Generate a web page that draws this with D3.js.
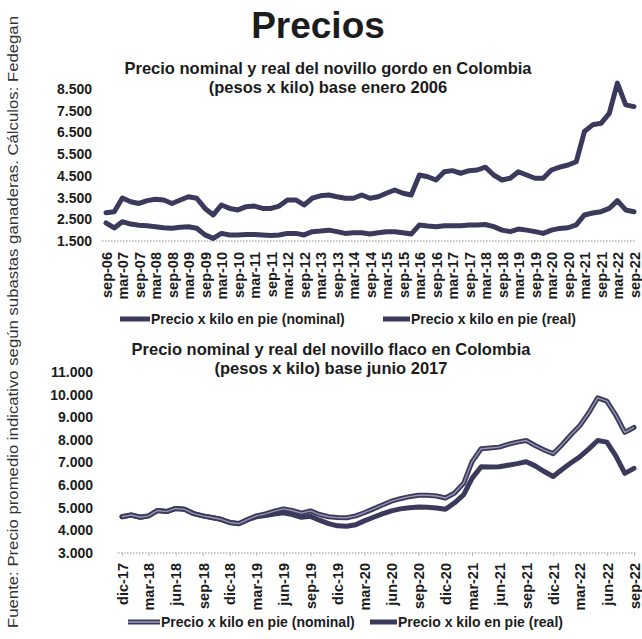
<!DOCTYPE html>
<html>
<head>
<meta charset="utf-8">
<script src="https://cdn.jsdelivr.net/npm/d3@7/dist/d3.min.js"></script>
<style>
  body { margin: 0; background: #fff; }
  svg { display: block; }
  text { font-family: 'Liberation Sans', Arial, sans-serif; fill: #1c1c1c; }
</style>
</head>
<body>
<svg id="chart" width="642" height="639"></svg>
<script>
/* ---- Data: novillo gordo, trimestral sep-06 .. sep-22 ---- */
const gordoNominal = [
  2800, 2850,
  3480, 3310, 3230, 3360,
  3420, 3390, 3230, 3390,
  3540, 3470, 3000, 2700,
  3160, 3000, 2930, 3080,
  3110, 3000, 3000, 3110,
  3390, 3390, 3160, 3470,
  3580, 3620, 3540, 3470,
  3470, 3620, 3470, 3540,
  3700, 3850, 3700, 3620,
  4540, 4460, 4310, 4690,
  4740, 4620, 4740, 4770,
  4900, 4540, 4310, 4390,
  4690, 4540, 4390, 4390,
  4770, 4900, 5000, 5150,
  6540, 6850, 6920, 7380,
  8770, 7770, 7690
];
const gordoReal = [
  2330, 2100,
  2390, 2280, 2230, 2200,
  2160, 2110, 2090, 2130,
  2160, 2090, 1780, 1620,
  1850, 1780, 1780, 1800,
  1800, 1780, 1750, 1780,
  1850, 1850, 1780, 1930,
  1960, 2000, 1930, 1850,
  1880, 1880, 1820, 1880,
  1930, 1930, 1880, 1820,
  2240, 2190, 2160, 2200,
  2200, 2200, 2240, 2240,
  2260, 2160, 2000, 1930,
  2050, 2000, 1930, 1850,
  2000, 2080, 2110, 2240,
  2700, 2790, 2850, 3000,
  3360, 2930, 2850
];
const gordoTicksY = [1500, 2500, 3500, 4500, 5500, 6500, 7500, 8500];

/* ---- Data: novillo flaco, mensual dic-17 .. sep-22 ---- */
const flacoNominal = [
  4600,
  4680, 4580, 4640, 4880, 4830, 4970, 4930, 4740, 4640, 4570, 4490, 4350,
  4300, 4490, 4640, 4730, 4850, 4950, 4880, 4760, 4860, 4700, 4600, 4565,
  4560, 4640, 4780, 4950, 5120, 5290, 5400, 5490, 5550, 5550, 5520, 5430,
  5650, 6090, 7030, 7610, 7640, 7680, 7800, 7900, 7970, 7750, 7550, 7390,
  7800, 8250, 8620, 9200, 9860, 9710, 9100, 8330, 8550
];
const flacoReal = [
  4600,
  4680, 4580, 4640, 4880, 4830, 4970, 4930, 4740, 4640, 4570, 4490, 4350,
  4290, 4470, 4600, 4660, 4720, 4780, 4700, 4580, 4620, 4450, 4300, 4200,
  4180, 4250, 4420, 4580, 4730, 4860, 4950, 5000, 5030, 5020, 4990, 4930,
  5220, 5580, 6300, 6810, 6800, 6810, 6880, 6950, 7030, 6850, 6600, 6380,
  6700, 7000, 7250, 7600, 7970, 7900, 7300, 6520, 6740
];
const flacoTicksY = [3000, 4000, 5000, 6000, 7000, 8000, 9000, 10000, 11000];

const MESES = ['ene', 'feb', 'mar', 'abr', 'may', 'jun', 'jul', 'ago', 'sep', 'oct', 'nov', 'dic'];
const LINE_DARK = '#3b3a5c';

const gordoDates = d3.timeMonth.range(new Date(2006, 8, 1), new Date(2022, 9, 1), 3);
const flacoDates = d3.timeMonth.range(new Date(2017, 11, 1), new Date(2022, 9, 1));
const gordoTicksX = d3.timeMonth.range(new Date(2006, 8, 1), new Date(2022, 9, 1), 6);
const flacoTicksX = d3.timeMonth.range(new Date(2017, 11, 1), new Date(2022, 9, 1), 3);

const fmtMes = d => MESES[d.getMonth()] + '-' + String(d.getFullYear()).slice(2);
const esNum = d3.format(',');
const fmtNum = v => esNum(v).replace(/,/g, '.');

const svg = d3.select('#chart');

/* ---- Titles ---- */
svg.append('text')
  .attr('x', 318).attr('y', 38)
  .attr('text-anchor', 'middle')
  .attr('font-size', 37).attr('font-weight', 700)
  .text('Precios');

// source note, rotated along the left edge
svg.append('text')
  .attr('transform', 'translate(18,322) rotate(-90)')
  .attr('text-anchor', 'middle')
  .attr('font-size', 15.5)
  .attr('textLength', 612)
  .attr('lengthAdjust', 'spacingAndGlyphs')
  .style('fill', '#333')
  .text('Fuente: Precio promedio indicativo según subastas ganaderas. Cálculos: Fedegan');

function drawPanel(opt) {
  const x = d3.scaleTime().domain(opt.xDomain).range(opt.xRange);
  const y = d3.scaleLinear().domain(opt.yDomain).range(opt.yRange);

  // chart title (two lines)
  opt.title.forEach((t, i) => {
    svg.append('text')
      .attr('x', opt.titleX).attr('y', opt.titleY + i * 18.5)
      .attr('text-anchor', 'middle')
      .attr('font-size', 16.5).attr('font-weight', 700)
      .text(t);
  });

  // y labels
  const yAxis = svg.append('g')
    .attr('transform', `translate(${opt.yLabelX},0)`)
    .call(d3.axisLeft(y).tickValues(opt.yTicks).tickFormat(fmtNum).tickSize(0).tickPadding(0));
  yAxis.select('.domain').remove();
  yAxis.selectAll('text')
    .attr('font-size', 14).attr('font-weight', 700)
    .attr('font-family', "'Liberation Sans', Arial, sans-serif")
    .style('fill', '#1c1c1c');

  // dotted baseline
  const y0 = y(opt.yDomain[0]);
  svg.append('line')
    .attr('x1', opt.xRange[0] - 4).attr('x2', opt.xRange[1] + 2)
    .attr('y1', y0).attr('y2', y0)
    .attr('stroke', '#8c8c8c').attr('stroke-width', 1)
    .attr('stroke-dasharray', '1.5,1.5');

  // x labels
  const xAxis = svg.append('g')
    .attr('transform', `translate(0,${y0})`)
    .call(d3.axisBottom(x).tickValues(opt.xTicks).tickFormat(fmtMes).tickSize(opt.tickLen));
  xAxis.select('.domain').remove();
  xAxis.selectAll('line').attr('stroke', '#aaa').attr('stroke-width', 0.8);
  xAxis.selectAll('text')
    .attr('transform', 'rotate(-90)')
    .attr('x', -opt.labelGap).attr('y', 0).attr('dy', '0.36em')
    .attr('font-size', 14.5).attr('font-weight', 700)
    .attr('font-family', "'Liberation Sans', Arial, sans-serif")
    .style('fill', '#1c1c1c')
    .style('text-anchor', 'end');

  // lines
  const line = d3.line()
    .x((d, i) => x(opt.dates[i]))
    .y(d => y(d))
    .curve(d3.curveLinear);

  opt.series.forEach(s => {
    svg.append('path')
      .datum(s.values)
      .attr('fill', 'none')
      .attr('stroke', LINE_DARK)
      .attr('stroke-width', 5)
      .attr('stroke-linejoin', 'round')
      .attr('stroke-linecap', 'round')
      .attr('d', line);
    if (s.inner) {
      svg.append('path')
        .datum(s.values)
        .attr('fill', 'none')
        .attr('stroke', s.inner)
        .attr('stroke-width', 1.4)
        .attr('stroke-linejoin', 'round')
        .attr('d', line);
    }
  });

  // legend
  opt.legend.forEach(l => {
    svg.append('line')
      .attr('x1', l.x1).attr('x2', l.x2)
      .attr('y1', opt.legendY).attr('y2', opt.legendY)
      .attr('stroke', LINE_DARK).attr('stroke-width', 5);
    if (l.inner) {
      svg.append('line')
        .attr('x1', l.x1).attr('x2', l.x2)
        .attr('y1', opt.legendY).attr('y2', opt.legendY)
        .attr('stroke', l.inner).attr('stroke-width', 1.6);
    }
    svg.append('text')
      .attr('x', l.x2 + 1).attr('y', opt.legendY + 5)
      .attr('font-size', 14).attr('font-weight', 700)
      .text(l.label);
  });
}

drawPanel({
  title: ['Precio nominal y real del novillo gordo en Colombia', '(pesos x kilo) base enero 2006'],
  titleX: 328, titleY: 74,
  xDomain: [new Date(2006, 8, 1), new Date(2022, 8, 1)],
  xRange: [106, 634],
  yDomain: [1500, 8500],
  yRange: [241, 89],
  yTicks: gordoTicksY,
  yLabelX: 92,
  xTicks: gordoTicksX,
  tickLen: 0,
  labelGap: 11,
  dates: gordoDates,
  series: [
    { values: gordoNominal },
    { values: gordoReal }
  ],
  legendY: 319,
  legend: [
    { x1: 120, x2: 150, label: 'Precio x kilo en pie (nominal)' },
    { x1: 383, x2: 410, label: 'Precio x kilo en pie (real)' }
  ]
});

drawPanel({
  title: ['Precio nominal y real del novillo flaco en Colombia', '(pesos x kilo) base junio 2017'],
  titleX: 331, titleY: 355,
  xDomain: [new Date(2017, 11, 1), new Date(2022, 8, 1)],
  xRange: [122, 634],
  yDomain: [3000, 11000],
  yRange: [553, 372],
  yTicks: flacoTicksY,
  yLabelX: 93,
  xTicks: flacoTicksX,
  tickLen: 3,
  labelGap: 10,
  dates: flacoDates,
  series: [
    { values: flacoReal },
    { values: flacoNominal, inner: '#9896b2' }
  ],
  legendY: 622,
  legend: [
    { x1: 128, x2: 160, label: 'Precio x kilo en pie (nominal)', inner: '#9896b2' },
    { x1: 370, x2: 397, label: 'Precio x kilo en pie (real)' }
  ]
});
</script>
</body>
</html>
